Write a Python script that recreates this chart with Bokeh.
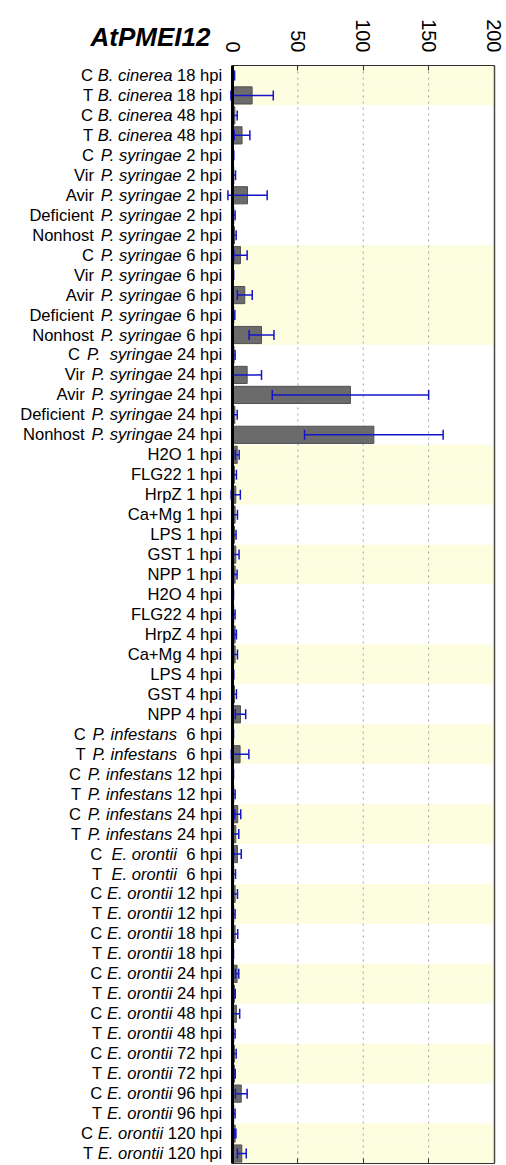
import math
from bokeh.plotting import figure
from bokeh.models import (ColumnDataSource, Range1d, LinearAxis, FixedTicker,
                          Whisker, TeeHead, Label)
from bokeh.core.properties import value
from bokeh.embed import file_html
from bokeh.resources import INLINE

title_text = "AtPMEI12"
ticks = [0, 50, 100, 150, 200]

prefixes = ["C ", "T ", "C ", "T ",
            "C ", "Vir ", "Avir ", "Deficient ", "Nonhost ",
            "C ", "Vir ", "Avir ", "Deficient ", "Nonhost ",
            "C ", "Vir ", "Avir ", "Deficient ", "Nonhost ",
            "", "", "", "", "", "", "",
            "", "", "", "", "", "", "",
            "C ", "T ", "C ", "T ", "C ", "T ",
            "C  ", "T  ", "C ", "T ", "C ", "T ", "C ", "T ",
            "C ", "T ", "C ", "T ", "C ", "T ", "C ", "T "]
species = ["B. cinerea"] * 4 + ["P. syringae"] * 10 + ["P.  syringae"] + ["P. syringae"] * 4 \
    + [""] * 14 + ["P. infestans"] * 6 + ["E. orontii"] * 16
suffixes = [" 18 hpi", " 18 hpi", " 48 hpi", " 48 hpi"] + [" 2 hpi"] * 5 + [" 6 hpi"] * 5 + [" 24 hpi"] * 5 \
    + ["H2O 1 hpi", "FLG22 1 hpi", "HrpZ 1 hpi", "Ca+Mg 1 hpi", "LPS 1 hpi", "GST 1 hpi", "NPP 1 hpi",
       "H2O 4 hpi", "FLG22 4 hpi", "HrpZ 4 hpi", "Ca+Mg 4 hpi", "LPS 4 hpi", "GST 4 hpi", "NPP 4 hpi"] \
    + ["  6 hpi", "  6 hpi", " 12 hpi", " 12 hpi", " 24 hpi", " 24 hpi"] \
    + ["  6 hpi", "  6 hpi", " 12 hpi", " 12 hpi", " 18 hpi", " 18 hpi", " 24 hpi", " 24 hpi",
       " 48 hpi", " 48 hpi", " 72 hpi", " 72 hpi", " 96 hpi", " 96 hpi", " 120 hpi", " 120 hpi"]

values = [0.8, 15.0, 1.8, 7.3,
          0.5, 1.0, 11.5, 1.0, 1.5,
          6.1, 0.5, 9.4, 1.0, 22.2,
          1.2, 11.2, 90.2, 1.8, 108.1,
          3.6, 1.5, 2.5, 2.0, 1.5, 2.5, 2.0,
          0.4, 1.0, 2.0, 2.0, 0.5, 1.5, 6.1,
          0.4, 5.8, 0.4, 1.0, 4.0, 2.5,
          3.8, 1.0, 2.0, 1.0, 2.0, 0.4, 3.5, 1.5,
          3.0, 1.0, 1.5, 1.5, 6.7, 1.0, 2.0, 7.1]
errors = [0.8, 16.2, 1.8, 6.0,
          0.5, 1.3, 15.0, 1.0, 1.3,
          5.1, 0.4, 5.7, 0.8, 9.5,
          0.8, 11.0, 59.8, 1.8, 53.0,
          1.5, 1.5, 3.5, 1.8, 1.2, 2.5, 1.5,
          0.4, 1.0, 1.0, 1.8, 0.5, 1.5, 4.0,
          0.4, 6.7, 0.4, 1.0, 2.3, 2.3,
          2.9, 1.3, 1.8, 1.0, 2.0, 0.4, 1.3, 0.6,
          2.5, 1.0, 1.3, 0.6, 4.5, 1.0, 0.6, 3.4]
shaded = [1, 1, 0, 0,
          0, 0, 0, 0, 0,
          1, 1, 1, 1, 1,
          0, 0, 0, 0, 0,
          1, 1, 1, 0, 0, 1, 1,
          0, 0, 0, 1, 1, 0, 0,
          1, 1, 0, 0, 1, 1,
          0, 0, 1, 1, 0, 0, 1, 1,
          0, 0, 1, 1, 0, 0, 1, 1]

# Arial / Liberation Sans advance widths (per 1000 em)
W = {' ': 278, '.': 278, '+': 584}
W.update({d: 556 for d in "0123456789"})
W.update(dict(A=667, B=667, C=722, D=722, E=667, F=611, G=778, H=722, I=278, L=556, M=833, N=722,
              O=778, P=667, R=722, S=667, T=611, V=667, Z=611))
W.update(dict(a=556, b=556, c=500, d=556, e=556, f=278, g=556, h=556, i=222, l=222, m=833, n=556,
              o=556, p=556, r=333, s=500, t=278, u=556, v=500, x=500, y=500, z=500))
FS = 16.6


def tw(s):
    return sum(W.get(ch, 556) for ch in s) * FS / 1000.0


def shown(s):
    return s.strip().replace("  ", "\u00a0 ")


cats = [a + b + c for a, b, c in zip(prefixes, species, suffixes)]
N = len(cats)
rows = list(range(N))          # row position of each category, top to bottom
END = -10.3
suf_off = [END for _ in cats]
sp_off = [END - tw(c) for c in suffixes]
pre_off = [END - tw(c) - tw(b) - (tw(a) - tw(a.rstrip()))
           for a, b, c in zip(prefixes, species, suffixes)]

src = ColumnDataSource(dict(
    y=rows, cat=cats, v=values,
    lo=[v - e for v, e in zip(values, errors)],
    hi=[v + e for v, e in zip(values, errors)],
    band=["#fdfde0" if s else "#ffffff" for s in shaded],
    suf=[shown(c) for c in suffixes], suf_off=suf_off,
))
idx = [i for i, b in enumerate(species) if b]
src_sp = ColumnDataSource(dict(y=[rows[i] for i in idx], sp=[shown(species[i]) for i in idx],
                               sp_off=[sp_off[i] for i in idx]))
idx = [i for i, a in enumerate(prefixes) if a.strip()]
src_pre = ColumnDataSource(dict(y=[rows[i] for i in idx], pre=[shown(prefixes[i]) for i in idx],
                                pre_off=[pre_off[i] for i in idx]))

# pixel geometry
H, Wd = 1165, 506
x0 = 232.0
xs = 1.3075
top_px, bot_px = 65.0, 1163.0
pitch = (bot_px - top_px) / N
y_top = -0.5 - top_px / pitch
y_bot = N - 0.5 + (H - bot_px) / pitch

p = figure(width=Wd, height=H,
           x_range=Range1d(-x0 / xs, (Wd - x0) / xs),
           y_range=Range1d(y_bot, y_top),
           x_axis_location=None, y_axis_location=None,
           toolbar_location=None, output_backend="svg",
           min_border_left=0, min_border_right=0, min_border_top=0, min_border_bottom=0)
p.outline_line_color = None
p.background_fill_color = "white"
p.border_fill_color = "white"
p.xgrid.grid_line_color = None
p.ygrid.grid_line_color = None

bands = p.hbar(y="y", left=ticks[0], right=ticks[-1], height=1.0, source=src,
               fill_color="band", line_color=None)
bands.level = "image"

# dotted vertical grid lines inside the box
p.segment(x0=ticks[1:-1], x1=ticks[1:-1], y0=[rows[0] - 0.5] * 3, y1=[rows[-1] + 0.5] * 3,
          line_color="#a0a0a0", line_dash="2 4", line_width=1)

p.hbar(y="y", left=0, right="v", height=0.86, source=src,
       fill_color="#6b6b6b", line_color="#505050", line_width=1)

txt_kw = dict(text_font=value("Liberation Sans"), text_font_size=f"{FS}px", text_align="right",
              text_baseline="middle", text_color="black")
p.text(x=0, y="y", text="suf", x_offset="suf_off", source=src, **txt_kw)
p.text(x=0, y="y", text="sp", x_offset="sp_off", text_font_style="italic", source=src_sp, **txt_kw)
p.text(x=0, y="y", text="pre", x_offset="pre_off", source=src_pre, **txt_kw)

ybounds = (rows[0] - 0.5, rows[-1] + 0.5)

ax = LinearAxis(ticker=FixedTicker(ticks=ticks), bounds=(ticks[0], ticks[-1]),
                fixed_location=ybounds[0],
                major_label_orientation=-math.pi / 2,
                major_label_text_font="Liberation Sans", major_label_text_font_size="20px",
                major_label_text_color="black", major_label_standoff=13,
                major_tick_in=5, major_tick_out=0, minor_tick_in=0, minor_tick_out=0,
                axis_line_color="#333333", major_tick_line_color="#333333")
p.add_layout(ax, "above")

bx = LinearAxis(ticker=FixedTicker(ticks=[], minor_ticks=ticks), bounds=(ticks[0], ticks[-1]),
                fixed_location=ybounds[1],
                major_tick_in=0, major_tick_out=0, minor_tick_in=5, minor_tick_out=0,
                axis_line_color="#333333", minor_tick_line_color="#333333")
p.add_layout(bx, "below")

rx = LinearAxis(ticker=FixedTicker(ticks=[]), bounds=ybounds, fixed_location=ticks[-1],
                major_tick_in=0, major_tick_out=0, minor_tick_in=0, minor_tick_out=0,
                axis_line_color="#4a4a4a", axis_line_width=1.5)
p.add_layout(rx, "right")

head_kw = dict(size=10, line_color="#1414c8", line_width=1.5)
whisk = Whisker(source=src, base="y", lower="lo", upper="hi", dimension="width",
                line_color="#1414c8", line_width=1.5,
                lower_head=TeeHead(**head_kw), upper_head=TeeHead(**head_kw))
whisk.level = "annotation"
p.add_layout(whisk)

lx = LinearAxis(ticker=FixedTicker(ticks=[]), bounds=ybounds, fixed_location=ticks[0],
                major_tick_in=0, major_tick_out=0, minor_tick_in=0, minor_tick_out=0,
                axis_line_color="black", axis_line_width=3)
lx.level = "overlay"
p.add_layout(lx, "left")

p.add_layout(Label(x=0, y=ybounds[0], x_offset=-22, y_offset=29, text=title_text,
                   text_font="Liberation Sans", text_font_size="26px",
                   text_font_style="bold italic", text_align="right", text_baseline="middle",
                   text_color="black"))

open("out.html", "w").write(file_html(p, INLINE))
